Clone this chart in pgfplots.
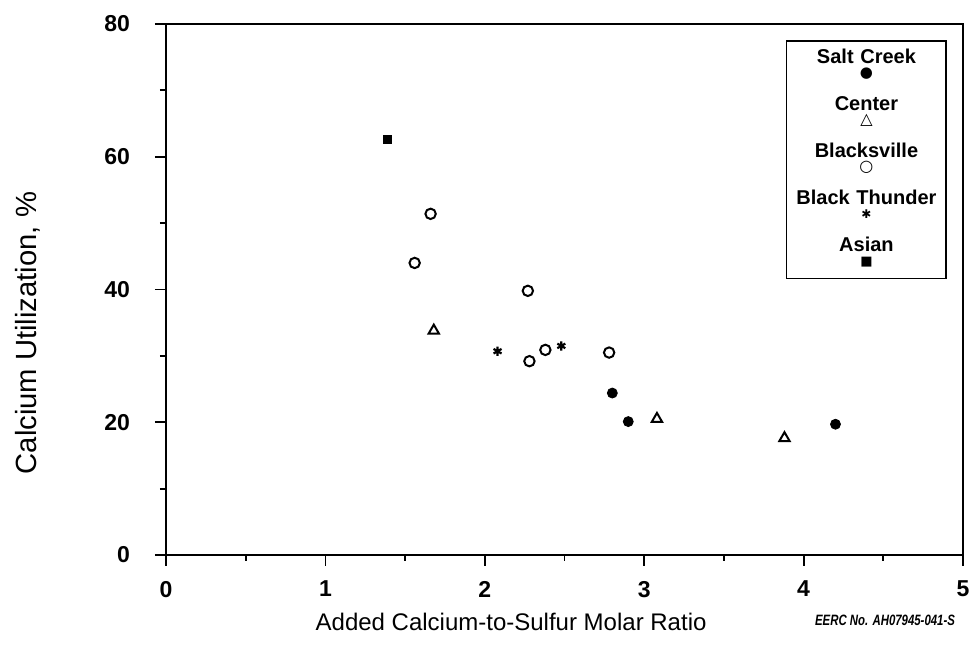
\documentclass[border=0pt]{standalone}
\usepackage{pgfplots}
\pgfplotsset{compat=1.18}
\usepackage{fontspec}
\setmainfont{Liberation Sans}
\newfontfamily\symfont{DejaVu Sans}
\newcommand{\sym}[2]{{\normalfont\symfont\fontsize{#1}{#1}\selectfont #2}}
\tikzset{
    txt/.style={inner sep=0pt, text height=8pt, text depth=0.5pt},
    sy/.style={inner sep=0pt, text height=6.5pt, text depth=8.5pt},
}

\begin{document}
\begin{tikzpicture}
\useasboundingbox (0,0) rectangle (487.5pt,331.5pt);
\begin{axis}[
    at={(83pt,54pt)}, anchor=south west,
    scale only axis,
    width=398.5pt, height=265.5pt,
    xmin=0, xmax=5, ymin=0, ymax=80,
    xtick={0,1,2,3,4,5},
    ytick={0,20,40,60,80},
    minor x tick num=1,
    minor y tick num=1,
    tick align=outside,
    major tick length=5.5pt,
    minor tick length=3pt,
    xtick pos=bottom, ytick pos=left,
    axis line style={line width=1.3pt},
    every tick/.style={black, line width=0.9pt},
    /pgf/number format/assume math mode=true,
    tick label style={font=\bfseries\fontsize{11.5}{11.5}\selectfont},
    yticklabel style={xshift=-9pt},
    xticklabel style={yshift=-4pt},
    xlabel={Added Calcium-to-Sulfur Molar Ratio},
    ylabel={Calcium Utilization, \%},
    xlabel style={at={(axis description cs:0.433,-0.126)}, anchor=center, font=\fontsize{12}{12}\selectfont},
    ylabel style={at={(axis description cs:-0.174,0.418)}, anchor=center, font=\fontsize{14.6}{14.6}\selectfont},
    legend style={at={(axis cs:4.9,77.6)}, anchor=north east,
        draw=black, line width=0.8pt, inner sep=3.4pt,
        font=\bfseries\fontsize{10}{10}\selectfont,
        row sep=0pt, column sep=0pt,
        cells={anchor=base, align=center, inner sep=0pt, text width=73pt}},
    legend image code/.code={},
]
\addlegendimage{}\addlegendentry[txt]{Salt Creek}
\addlegendimage{}\addlegendentry[sy]{\sym{7.5}{●}}
\addlegendimage{}\addlegendentry[txt]{Center}
\addlegendimage{}\addlegendentry[sy]{\sym{8}{△}}
\addlegendimage{}\addlegendentry[txt]{Blacksville}
\addlegendimage{}\addlegendentry[sy]{\sym{8}{○}}
\addlegendimage{}\addlegendentry[txt]{Black Thunder}
\addlegendimage{}\addlegendentry[sy]{\sym{6}{✱}}
\addlegendimage{}\addlegendentry[txt]{Asian}
\addlegendimage{}\addlegendentry[sy, text depth=3pt]{\sym{6.5}{■}}

% Salt Creek
\addplot[only marks, mark=*, mark size=2.5pt, black, forget plot]
  coordinates {(2.8,24.4) (2.9,20.1) (4.2,19.7)};
% Center
\addplot[only marks, mark=triangle, mark size=3pt, black, line width=1pt, forget plot]
  coordinates {(1.68,33.8) (3.08,20.5) (3.88,17.6)};
% Blacksville
\addplot[only marks, mark=o, mark size=2.6pt, black, line width=1pt, forget plot]
  coordinates {(1.66,51.4) (1.56,44.0) (2.27,39.8) (2.28,29.2) (2.38,30.9) (2.78,30.5)};
% Black Thunder
\addplot[only marks, mark=asterisk, mark size=2.3pt, black, line width=1.1pt, forget plot]
  coordinates {(2.08,30.7) (2.48,31.5)};
% Asian
\addplot[only marks, mark=square*, mark size=2pt, black, forget plot]
  coordinates {(1.39,62.6)};
\end{axis}
\node[anchor=east, font=\bfseries\itshape\fontsize{7.5}{7.5}\selectfont] at (481pt,21.5pt) {\scalebox{0.76}[1]{EERC No. AH07945-041-S}};
\end{tikzpicture}
\end{document}
